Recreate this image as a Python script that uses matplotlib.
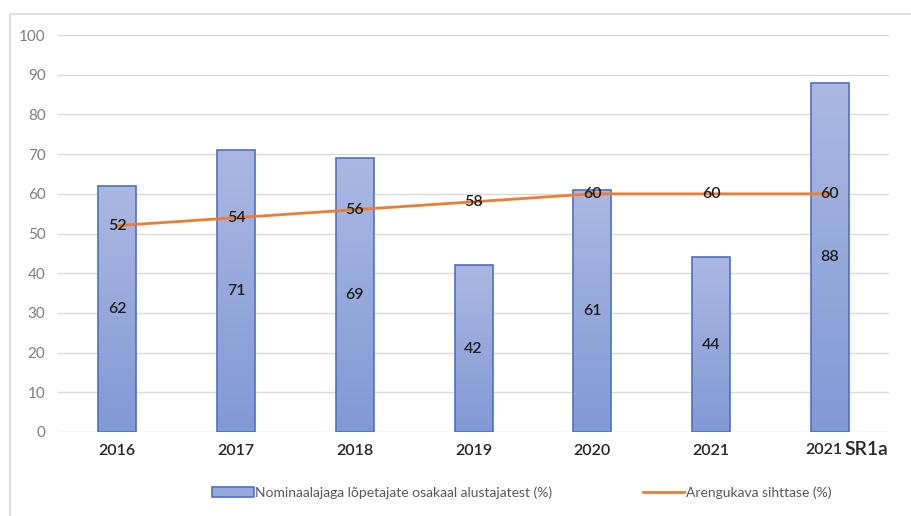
import numpy as np
import matplotlib
matplotlib.use("Agg")
import matplotlib.pyplot as plt
from matplotlib.lines import Line2D
from matplotlib.patches import Patch, Rectangle
from matplotlib.transforms import blended_transform_factory

categories = ["2016", "2017", "2018", "2019", "2020", "2021", "2021 SR1a"]
share = [62, 71, 69, 42, 61, 44, 88]
target = [52, 54, 56, 58, 60, 60, 60]
bar_label = "Nominaalajaga lõpetajate osakaal alustajatest (%)"
line_label = "Arengukava sihttase (%)"

plt.rcParams["font.family"] = ["Lato", "DejaVu Sans"]

fig = plt.figure(figsize=(9.12, 5.16), dpi=100)
ax = fig.add_axes([0.0636, 0.1628, 0.9114, 0.7692])

x = np.arange(len(categories))
bars = ax.bar(x, share, width=0.32, color="none", edgecolor="#4A72C4", linewidth=1.2, zorder=3)

# gradient fill inside each bar
grad = np.linspace(0, 1, 256).reshape(-1, 1)
cmap = matplotlib.colors.LinearSegmentedColormap.from_list("g", ["#8299D5", "#ABB8E2"])
for b in bars:
    x0, w, h = b.get_x(), b.get_width(), b.get_height()
    im = ax.imshow(grad, cmap=cmap, extent=[x0, x0 + w, 0, h], origin="lower",
                   aspect="auto", zorder=2)
    im.set_clip_path(Rectangle((x0, 0), w, h, transform=ax.transData))

ax.plot(x, target, color="#ED7D31", linewidth=2, zorder=4)

for xi, v in zip(x, share):
    ax.text(xi, v / 2, str(v), ha="center", va="center", fontsize=11.5,
            fontweight="semibold", color="#1F1F1F", zorder=5)
for xi, v in zip(x, target):
    ax.text(xi, v, str(v), ha="center", va="center", fontsize=11.5,
            fontweight="semibold", color="#1F1F1F", zorder=5)

ax.set_xlim(-0.5, len(categories) - 0.5)
ax.set_ylim(0, 100)
ax.set_yticks(range(0, 101, 10))
ax.set_xticks(x)
ax.set_xticklabels(categories[:-1] + [""], fontsize=11.5, fontweight="semibold", color="#262626")

# last label: year part normal size, "SR1a" larger
tr = blended_transform_factory(ax.transData, ax.transAxes)
year, tag = categories[-1].split(" ")
ax.text(x[-1] + 0.11, -0.028, year, transform=tr, ha="right", va="top", fontsize=11.5,
        fontweight="semibold", color="#262626")
ax.text(x[-1] + 0.125, -0.022, tag, transform=tr, ha="left", va="top", fontsize=14,
        fontweight="semibold", color="#262626")

ax.tick_params(axis="y", labelsize=11, labelcolor="#7F7F7F", length=0, pad=9)
ax.tick_params(axis="x", length=0, pad=9)
ax.grid(axis="y", color="#D9D9D9", linewidth=1, zorder=0)
for s in ax.spines.values():
    s.set_visible(False)

# thin frame around the chart area
fig.add_artist(Rectangle((0.011, -0.1), 1.1, 0.1 + 0.973, transform=fig.transFigure,
                         fill=False, edgecolor="#D9D9D9", linewidth=1.2))

handles = [Patch(facecolor="#97A9DC", edgecolor="#4A72C4", linewidth=1.2),
           Line2D([0], [0], color="#ED7D31", linewidth=2)]
fig.legend(handles, [bar_label, line_label], loc="center", bbox_to_anchor=(0.572, 0.045),
           ncol=2, frameon=False, fontsize=10, labelcolor="#595959",
           handlelength=3, handletextpad=0.1, columnspacing=6.5)

fig.savefig("out.png", dpi=100)
